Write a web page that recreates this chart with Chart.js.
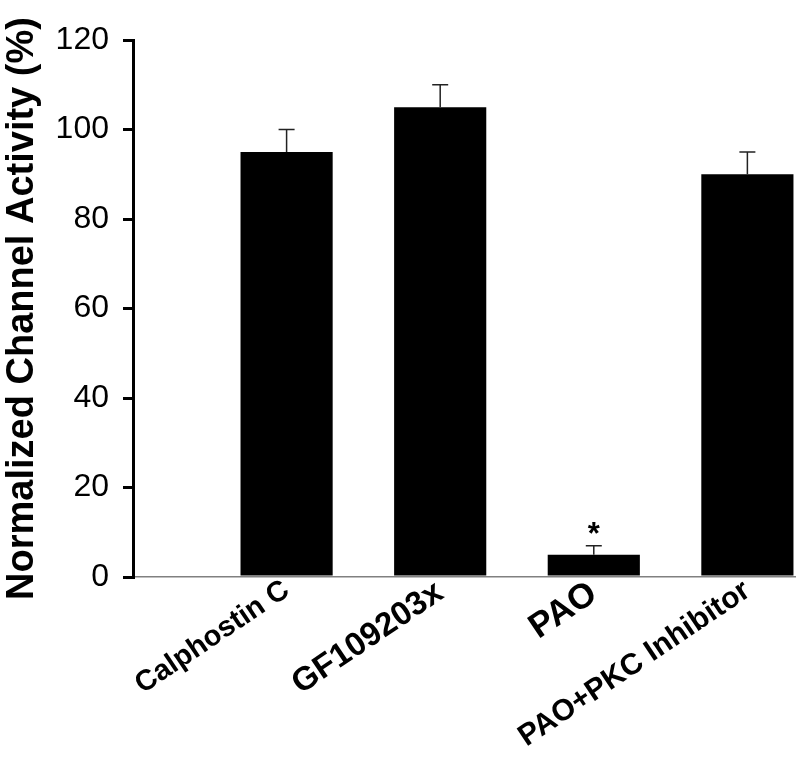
<!DOCTYPE html>
<html>
<head>
<meta charset="utf-8">
<script src="https://cdn.jsdelivr.net/npm/chart.js@4.4.1/dist/chart.umd.min.js"></script>
<style>
html,body{margin:0;padding:0;background:#fff;}
#wrap{width:800px;height:759px;}
</style>
</head>
<body>
<div id="wrap"><canvas id="c" width="800" height="759"></canvas></div>
<script>
const categories = ['Calphostin C', 'GF109203x', 'PAO', 'PAO+PKC Inhibitor'];
const activity = [95, 105, 5, 90];
const errors = [5, 5, 2, 5];
const marks = ['', '', '*', ''];
const yTicks = [0, 20, 40, 60, 80, 100, 120];

const FAMILY = "'Liberation Sans', Arial, Helvetica, sans-serif";
const labelFontSize = {1: 29, 2: 33, 3: 35, 4: 30};

const errorBarPlugin = {
  id: 'errorBars',
  afterDatasetsDraw(chart) {
    const ctx = chart.ctx;
    const meta = chart.getDatasetMeta(0);
    const ys = chart.scales.y;
    ctx.save();
    meta.data.forEach((bar, i) => {
      const top = ys.getPixelForValue(activity[i] + errors[i]);
      ctx.strokeStyle = '#222';
      ctx.lineWidth = 1.5;
      ctx.beginPath();
      ctx.moveTo(bar.x, bar.y);
      ctx.lineTo(bar.x, top);
      ctx.moveTo(bar.x - 8, top);
      ctx.lineTo(bar.x + 8, top);
      ctx.stroke();
      if (marks[i]) {
        ctx.fillStyle = '#000';
        ctx.font = 'bold 31px ' + FAMILY;
        ctx.textAlign = 'center';
        ctx.textBaseline = 'alphabetic';
        ctx.fillText(marks[i], bar.x, top - 2);
      }
    });
    ctx.restore();
  }
};

new Chart(document.getElementById('c'), {
  type: 'bar',
  data: {
    datasets: [{
      data: categories.map((c, i) => ({x: i + 1, y: activity[i]})),
      backgroundColor: '#000',
      borderWidth: 0,
      categoryPercentage: 1,
      barPercentage: 0.6
    }]
  },
  options: {
    responsive: false,
    animation: false,
    devicePixelRatio: 1,
    layout: {padding: {top: 40, right: 5, left: 0, bottom: 0}},
    plugins: {legend: {display: false}, tooltip: {enabled: false}},
    scales: {
      x: {
        type: 'linear',
        min: 0,
        max: 4.31,
        offset: false,
        afterFit(scale) { scale.height = 182; },
        grid: {display: true, drawOnChartArea: false, drawTicks: false, offset: false},
        border: {display: true, color: '#808080', width: 1.5},
        ticks: {
          stepSize: 1,
          includeBounds: false,
          autoSkip: false,
          minRotation: 34,
          maxRotation: 34,
          padding: -4,
          color: '#000',
          font: (c) => ({family: FAMILY, weight: 'bold', size: labelFontSize[c.tick ? c.tick.value : 0] || 26}),
          callback: (v) => (Number.isInteger(v) && v >= 1 && v <= categories.length) ? categories[v - 1] : ''
        }
      },
      y: {
        min: 0,
        max: 120,
        afterFit(scale) { scale.width = 133; },
        afterBuildTicks(scale) { scale.ticks = yTicks.map(v => ({value: v})); },
        grid: {display: true, drawOnChartArea: false, drawTicks: true, tickLength: 10, color: '#000', lineWidth: 3},
        border: {display: true, color: '#000', width: 3},
        ticks: {
          padding: 14,
          color: '#000',
          font: {family: FAMILY, size: 32}
        },
        title: {
          display: true,
          text: 'Normalized Channel Activity (%)',
          color: '#000',
          padding: {top: 0, bottom: 0},
          font: {family: FAMILY, size: 38, weight: 'bold'}
        }
      }
    }
  },
  plugins: [errorBarPlugin]
});
</script>
</body>
</html>
